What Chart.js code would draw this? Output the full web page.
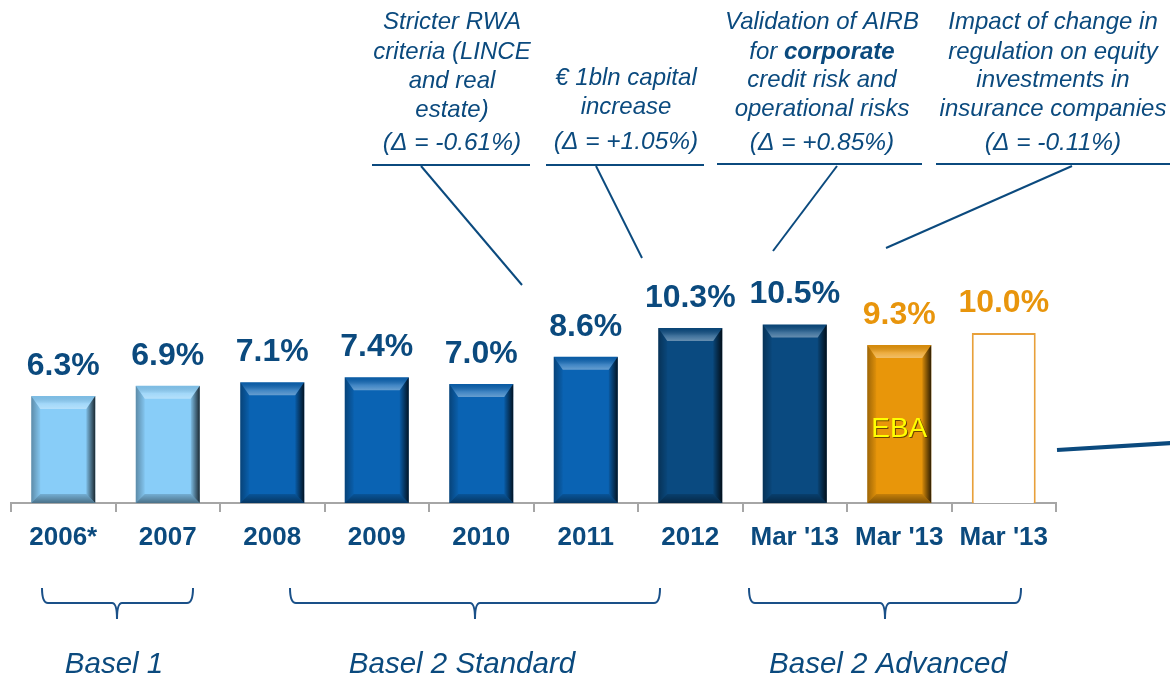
<!DOCTYPE html>
<html>
<head>
<meta charset="utf-8">
<script src="https://cdn.jsdelivr.net/npm/chart.js@4.4.1/dist/chart.umd.min.js"></script>
<style>
  html, body { margin: 0; padding: 0; background: #fff; }
  #wrap { position: relative; width: 1170px; height: 676px; }
</style>
</head>
<body>
<div id="wrap"><canvas id="graficaTier1"></canvas></div>
<script>
// Datos del gráfico
const categories = ['2006*', '2007', '2008', '2009', '2010', '2011', '2012', "Mar '13", "Mar '13", "Mar '13"];
const coreTier1 = [6.3, 6.9, 7.1, 7.4, 7.0, 8.6, 10.3, 10.5, 9.3, 10.0];
const insideLabels = ['', '', '', '', '', '', '', '', 'EBA', ''];
const periods = ['Basel 1', 'Basel 2 Standard', 'Basel 2 Advanced'];
const notes = [
  ['Stricter RWA', 'criteria (LINCE', 'and real', 'estate)', '(\u0394 = -0.61%)'],
  ['\u20ac 1bln capital', 'increase', '(\u0394 = +1.05%)'],
  ['Validation of AIRB', 'for **corporate**', 'credit risk and', 'operational risks', '(\u0394 = +0.85%)'],
  ['Impact of change in', 'regulation on equity', 'investments in', 'insurance companies', '(\u0394 = -0.11%)']
];

// Estilos
const NAVY = '#0b4a7e';
const ORANGE = '#e8950c';
const barFills = ['#88cdf8', '#88cdf8', '#0a63b3', '#0a63b3', '#0a63b3', '#0a63b3', '#0a4a80', '#0a4a80', '#e8960a', '#ffffff'];
const barBorders = barFills.map((c, i) => i === 9 ? '#e8a03a' : c);
const valueColors = coreTier1.map((v, i) => i >= 8 ? ORANGE : NAVY);
const FONT = '"Liberation Sans", Arial, sans-serif';

// posiciones de las notas (centro x, y de cada línea, subrayado, línea guía)
const noteLayout = [
  {cx: 452, ys: [22, 52, 81, 110, 143], under: [372, 530, 165], lead: [421, 166, 522, 285]},
  {cx: 626, ys: [78, 107, 142], under: [546, 704, 165], lead: [596, 166, 642, 258]},
  {cx: 822, ys: [22, 52, 80, 109, 143], under: [717, 922, 164], lead: [837, 166, 773, 251]},
  {cx: 1053, ys: [22, 52, 80, 109, 143], under: [936, 1172, 164], lead: [1072, 166, 886, 248]}
];
const bracketLayout = [
  {x1: 42, x2: 193, cx: 117, tx: 114},
  {x1: 290, x2: 660, cx: 475, tx: 462},
  {x1: 749, x2: 1021, cx: 885, tx: 888}
];

function drawRich(ctx, text, cx, y, size) {
  const parts = text.split('**');
  let total = 0;
  parts.forEach((p, i) => {
    ctx.font = (i % 2 ? 'italic bold ' : 'italic ') + size + 'px ' + FONT;
    total += ctx.measureText(p).width;
  });
  let x = cx - total / 2;
  ctx.textAlign = 'left';
  parts.forEach((p, i) => {
    ctx.font = (i % 2 ? 'italic bold ' : 'italic ') + size + 'px ' + FONT;
    ctx.fillText(p, x, y);
    x += ctx.measureText(p).width;
  });
}

// Efecto biselado de las barras
const bevelPlugin = {
  id: 'bevel',
  afterDatasetsDraw(chart) {
    const ctx = chart.ctx;
    const meta = chart.getDatasetMeta(0);
    meta.data.forEach((bar, i) => {
      if (barFills[i] === '#ffffff') return;
      const p = bar.getProps(['x', 'y', 'base', 'width'], true);
      const l = p.x - p.width / 2, r = p.x + p.width / 2, t = p.y, b = p.base;
      const sx = 9, st = 13, sb = 9;
      ctx.save();
      // arriba
      ctx.beginPath();
      ctx.moveTo(l, t); ctx.lineTo(r, t); ctx.lineTo(r - sx, t + st); ctx.lineTo(l + sx, t + st); ctx.closePath();
      let g = ctx.createLinearGradient(0, t, 0, t + st);
      g.addColorStop(0, 'rgba(0,0,0,0.08)');
      g.addColorStop(0.6, 'rgba(255,255,255,0.22)');
      g.addColorStop(1, 'rgba(255,255,255,0.38)');
      ctx.fillStyle = g;
      ctx.fill();
      // izquierda
      ctx.beginPath();
      ctx.moveTo(l, t); ctx.lineTo(l + sx, t + st); ctx.lineTo(l + sx, b - sb); ctx.lineTo(l, b); ctx.closePath();
      g = ctx.createLinearGradient(l, 0, l + sx, 0);
      g.addColorStop(0, 'rgba(0,0,0,0.32)');
      g.addColorStop(1, 'rgba(0,0,0,0.04)');
      ctx.fillStyle = g;
      ctx.fill();
      // derecha
      ctx.beginPath();
      ctx.moveTo(r, t); ctx.lineTo(r - sx, t + st); ctx.lineTo(r - sx, b - sb); ctx.lineTo(r, b); ctx.closePath();
      g = ctx.createLinearGradient(r - sx, 0, r, 0);
      g.addColorStop(0, 'rgba(0,0,0,0.08)');
      g.addColorStop(1, 'rgba(0,0,0,0.8)');
      ctx.fillStyle = g;
      ctx.fill();
      // abajo
      ctx.beginPath();
      ctx.moveTo(l, b); ctx.lineTo(l + sx, b - sb); ctx.lineTo(r - sx, b - sb); ctx.lineTo(r, b); ctx.closePath();
      g = ctx.createLinearGradient(0, b - sb, 0, b);
      g.addColorStop(0, 'rgba(0,0,0,0.15)');
      g.addColorStop(1, 'rgba(0,0,0,0.45)');
      ctx.fillStyle = g;
      ctx.fill();
      ctx.restore();
    });
  }
};

// Etiquetas, notas y llaves
const annotationPlugin = {
  id: 'notas',
  afterDraw(chart) {
    const ctx = chart.ctx;
    const meta = chart.getDatasetMeta(0);
    ctx.save();
    ctx.textBaseline = 'middle';
    ctx.textAlign = 'center';

    meta.data.forEach((bar, i) => {
      ctx.font = 'bold 32px ' + FONT;
      ctx.fillStyle = valueColors[i];
      ctx.fillText(coreTier1[i].toFixed(1) + '%', bar.x, bar.y - 30);
      if (insideLabels[i]) {
        const my = (bar.y + bar.base) / 2 + 5;
        ctx.font = '28px ' + FONT;
        ctx.fillStyle = 'rgba(80,50,0,0.8)';
        ctx.fillText(insideLabels[i], bar.x + 1, my + 1);
        ctx.fillStyle = '#ffff00';
        ctx.fillText(insideLabels[i], bar.x, my);
      }
    });

    ctx.fillStyle = NAVY;
    ctx.strokeStyle = NAVY;
    notes.forEach((lines, n) => {
      const lay = noteLayout[n];
      lines.forEach((txt, k) => {
        drawRich(ctx, txt, lay.cx, lay.ys[k], k === lines.length - 1 ? 24.5 : 24);
      });
      ctx.lineWidth = 2;
      ctx.beginPath();
      ctx.moveTo(lay.under[0], lay.under[2]);
      ctx.lineTo(lay.under[1], lay.under[2]);
      ctx.stroke();
      ctx.beginPath();
      ctx.moveTo(lay.lead[0], lay.lead[1]);
      ctx.lineTo(lay.lead[2], lay.lead[3]);
      ctx.stroke();
    });

    // línea a la derecha
    ctx.lineWidth = 4;
    ctx.beginPath();
    ctx.moveTo(1057, 450);
    ctx.lineTo(1172, 443);
    ctx.stroke();

    // llaves
    const top = 588, mid = 603, tip = 619;
    ctx.lineWidth = 2;
    ctx.strokeStyle = '#1a5088';
    bracketLayout.forEach((br, k) => {
      ctx.beginPath();
      ctx.moveTo(br.x1, top);
      ctx.quadraticCurveTo(br.x1, mid, br.x1 + 6, mid);
      ctx.lineTo(br.cx - 5, mid);
      ctx.quadraticCurveTo(br.cx, mid, br.cx, tip);
      ctx.moveTo(br.cx, tip);
      ctx.quadraticCurveTo(br.cx, mid, br.cx + 5, mid);
      ctx.lineTo(br.x2 - 6, mid);
      ctx.quadraticCurveTo(br.x2, mid, br.x2, top);
      ctx.stroke();
      ctx.font = 'italic 29.5px ' + FONT;
      ctx.textAlign = 'center';
      ctx.fillStyle = NAVY;
      ctx.fillText(periods[k], br.tx, 665);
    });
    ctx.restore();
  }
};

document.addEventListener('DOMContentLoaded', () => {
  const canvas = document.getElementById('graficaTier1');
  const ctx = canvas.getContext('2d');
  new Chart(ctx, {
    type: 'bar',
    data: {
      labels: categories,
      datasets: [{
        label: 'Core Tier 1',
        data: coreTier1,
        backgroundColor: barFills,
        borderColor: barBorders,
        borderWidth: barFills.map(c => c === '#ffffff' ? 2 : 0),
        barPercentage: 0.612,
        categoryPercentage: 1.0
      }]
    },
    options: {
      responsive: true,
      maintainAspectRatio: false,
      animation: false,
      layout: { padding: { left: 11, right: 114, top: 0, bottom: 0 } },
      plugins: {
        legend: { display: false },
        tooltip: { enabled: false }
      },
      scales: {
        y: { display: false, min: 0, max: 29.6 },
        x: {
          afterFit: (scale) => { scale.height = 173; },
          grid: {
            drawOnChartArea: false,
            drawTicks: true,
            tickLength: 9,
            color: '#a6a6a6',
            lineWidth: 2
          },
          border: { display: true, color: '#a6a6a6', width: 2 },
          ticks: {
            color: NAVY,
            padding: 10,
            font: { family: FONT, size: 26, weight: 'bold' }
          }
        }
      }
    },
    plugins: [bevelPlugin, annotationPlugin]
  });
});
</script>
</body>
</html>
